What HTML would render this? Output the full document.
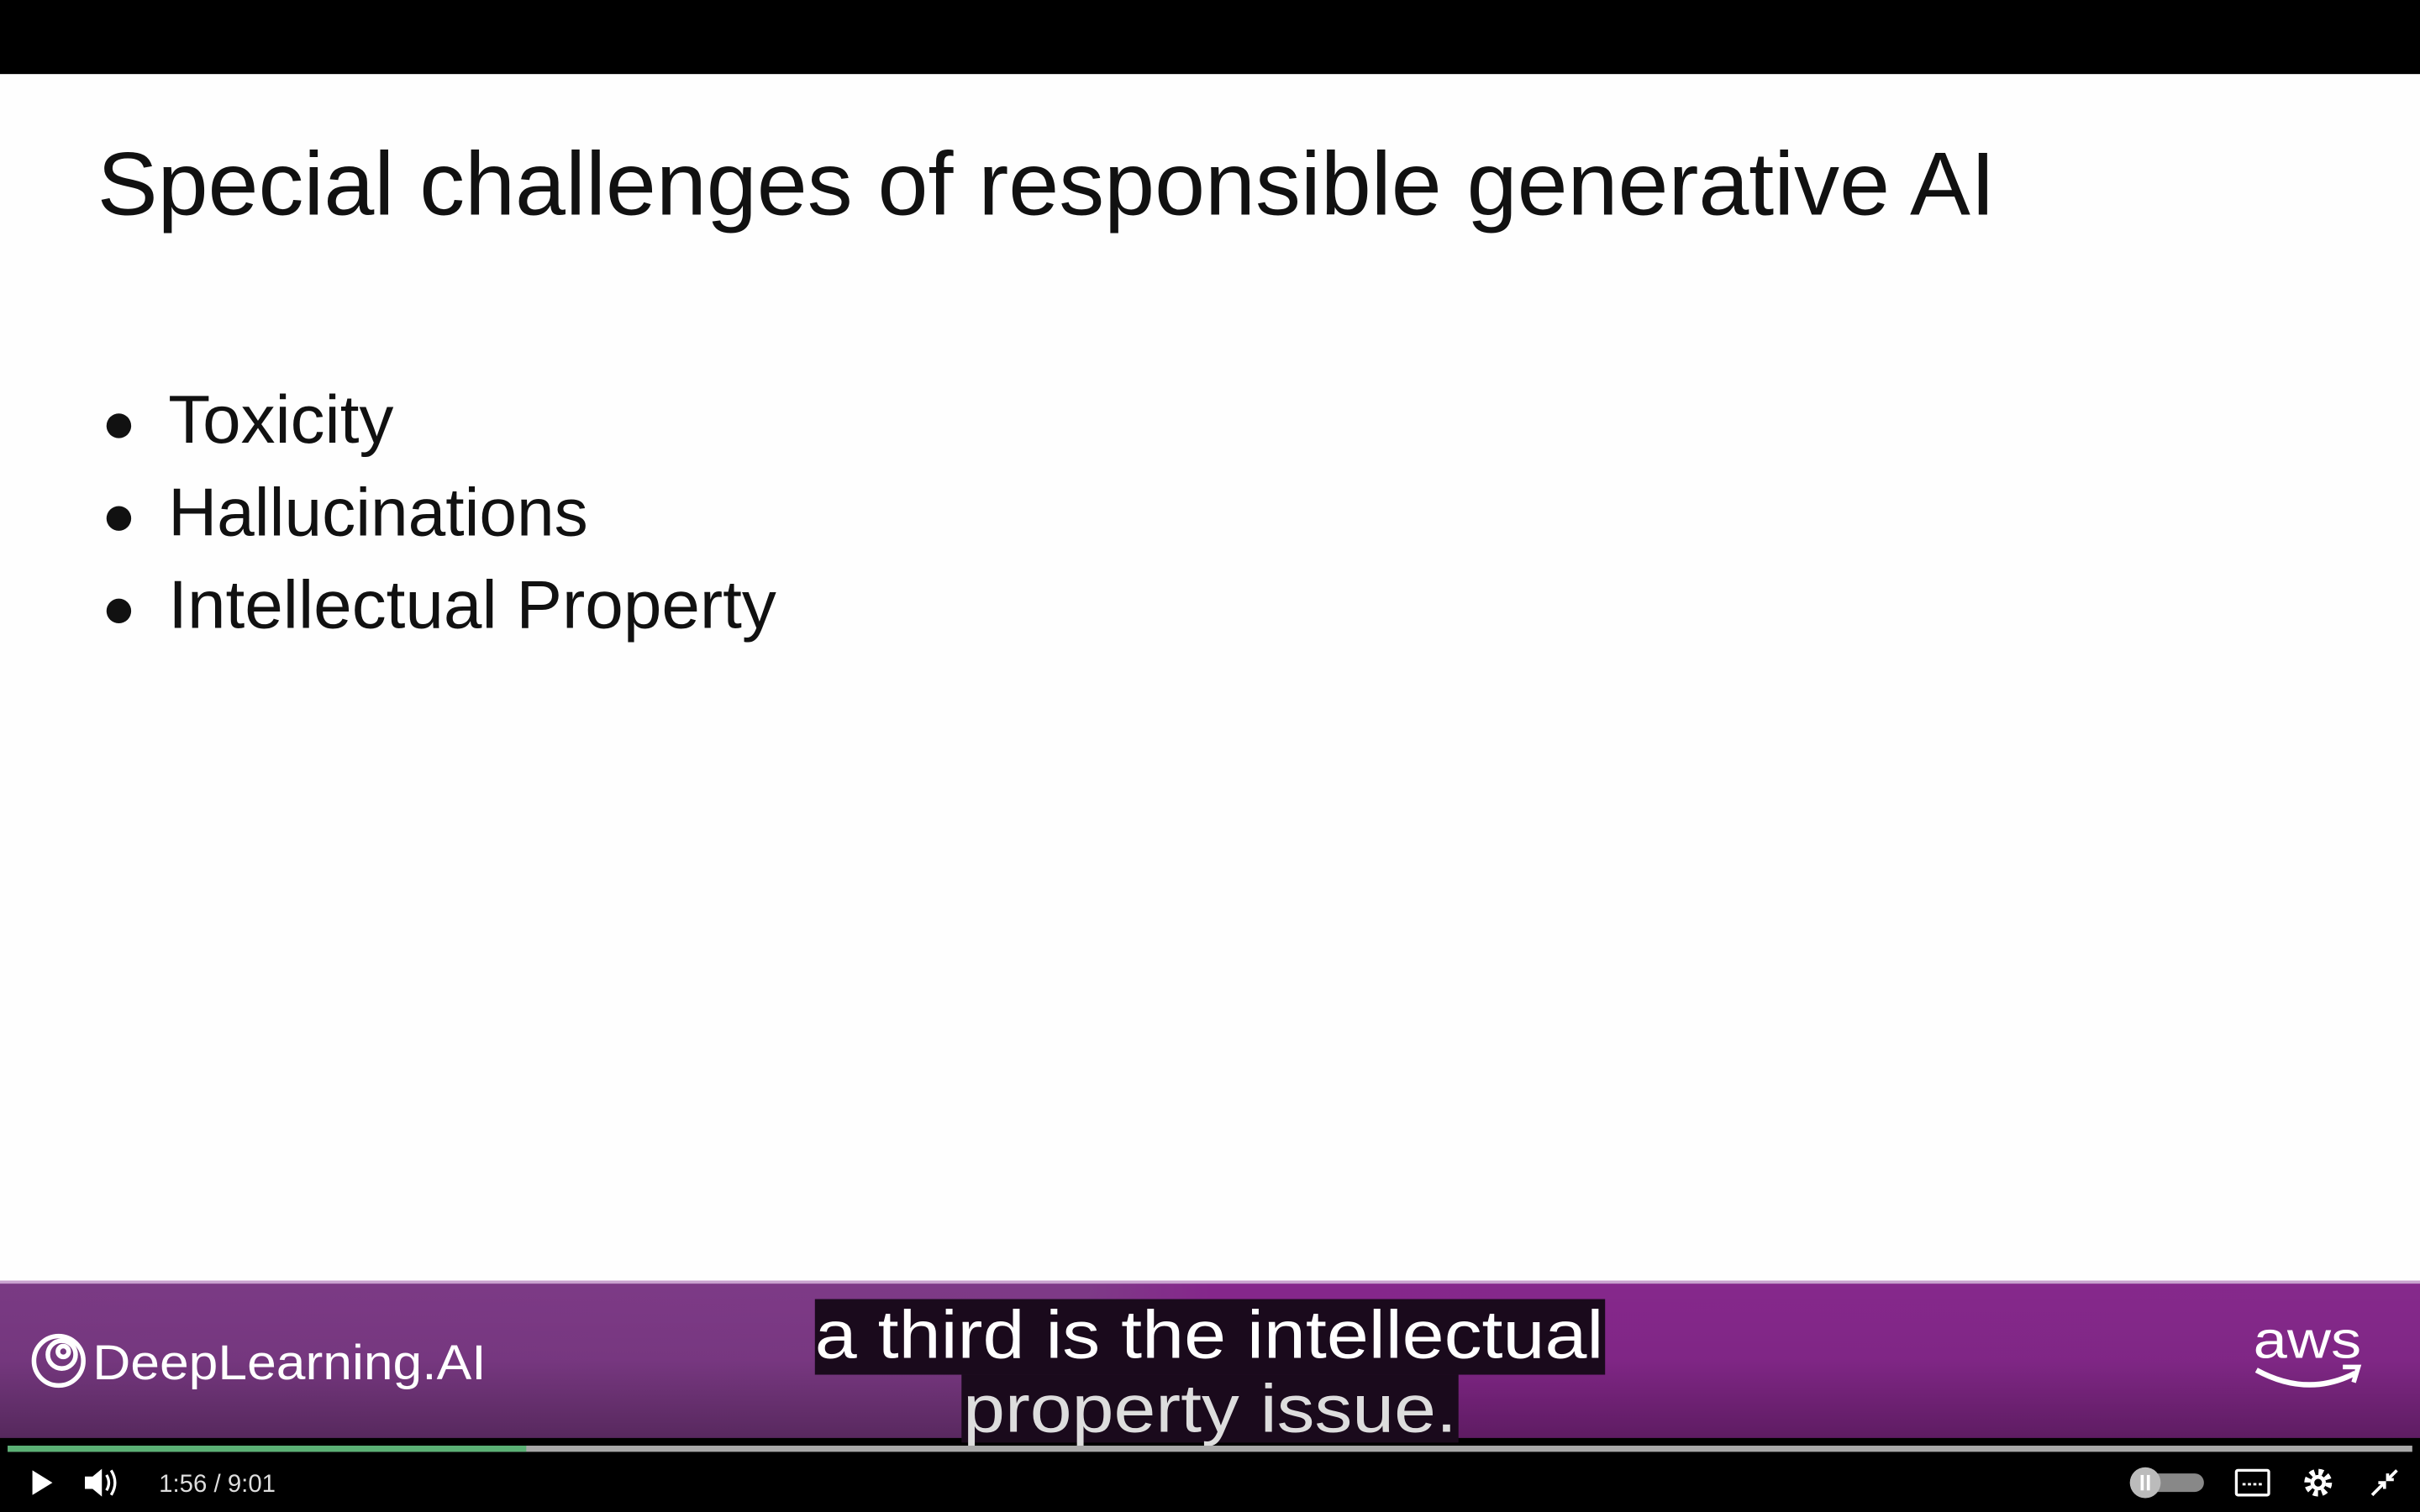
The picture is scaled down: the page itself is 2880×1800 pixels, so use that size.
<!DOCTYPE html>
<html><head><meta charset="utf-8"><style>
html,body{margin:0;padding:0;background:#000;}
svg{display:block;}
</style></head><body>
<svg width="2880" height="1800" viewBox="0 0 1568 980" preserveAspectRatio="none" xmlns="http://www.w3.org/2000/svg">
<defs>
<linearGradient id="pg" x1="0" y1="0" x2="1" y2="0">
<stop offset="0" stop-color="#7a3a84"/><stop offset="0.45" stop-color="#7f3a88"/><stop offset="0.5" stop-color="#86278c"/><stop offset="1" stop-color="#86298c"/>
</linearGradient>
<linearGradient id="pv" x1="0" y1="0" x2="0" y2="1">
<stop offset="0" stop-color="#000" stop-opacity="0"/><stop offset="0.5" stop-color="#000" stop-opacity="0.05"/><stop offset="1" stop-color="#000" stop-opacity="0.3"/>
</linearGradient>
</defs>
<rect x="0" y="0" width="1568" height="980" fill="#000"/>
<rect x="0" y="48" width="1568" height="784" fill="#fefefe"/>
<text x="63" y="139" font-family="Liberation Sans, sans-serif" font-size="58" fill="#111" textLength="1230" lengthAdjust="spacingAndGlyphs">Special challenges of responsible generative AI</text>
<g fill="#111" font-family="Liberation Sans, sans-serif" font-size="44">
<circle cx="77" cy="276" r="8"/>
<circle cx="77" cy="336" r="8"/>
<circle cx="77" cy="396" r="8"/>
<text x="109" y="287" textLength="146" lengthAdjust="spacingAndGlyphs">Toxicity</text>
<text x="109" y="347" textLength="272" lengthAdjust="spacingAndGlyphs">Hallucinations</text>
<text x="109" y="407" textLength="394" lengthAdjust="spacingAndGlyphs">Intellectual Property</text>
</g>
<rect x="0" y="831" width="1568" height="101" fill="url(#pg)"/>
<rect x="0" y="831" width="1568" height="101" fill="url(#pv)"/>
<rect x="0" y="830" width="1568" height="2" fill="#c9a2cf"/>
<!-- DeepLearning logo -->
<g fill="none" stroke="#fff" stroke-width="3">
<circle cx="38" cy="882" r="16"/>
<circle cx="40" cy="878" r="9"/>
<circle cx="41" cy="876" r="3.5"/>
</g>
<text x="60" y="894" font-family="Liberation Sans, sans-serif" font-size="32" fill="#fff" textLength="255" lengthAdjust="spacingAndGlyphs">DeepLearning.AI</text>
<!-- aws -->
<text x="1460" y="880" font-family="Liberation Sans, sans-serif" font-size="34" fill="#fff" textLength="70" lengthAdjust="spacingAndGlyphs">aws</text>
<path d="M1462 888 Q1495 906 1526 890" stroke="#fff" stroke-width="3.5" fill="none"/>
<path d="M1518 886 L1528 886 L1525 896" stroke="#fff" stroke-width="3" fill="none"/>
<!-- captions -->
<rect x="528" y="842" width="512" height="49" fill="#1a0a1c"/>
<rect x="623" y="891" width="322" height="44" fill="#1a0a1c"/>
<text x="528" y="880" font-family="Liberation Sans, sans-serif" font-size="44" fill="#fff" textLength="511" lengthAdjust="spacingAndGlyphs">a third is the intellectual</text>
<text x="624" y="928" font-family="Liberation Sans, sans-serif" font-size="44" fill="#ddd" textLength="320" lengthAdjust="spacingAndGlyphs">property issue.</text>
<!-- progress -->
<rect x="5" y="937" width="1558" height="4" fill="#a8a8a8"/>
<rect x="5" y="937" width="336" height="4" fill="#5bb075"/>
<!-- controls -->
<path d="M21 953 L34 961 L21 969 Z" fill="#fff"/>
<path d="M55 957 L60 957 L66 952 L66 970 L60 965 L55 965 Z" fill="#fff"/>
<path d="M69 956 Q72 961 69 966 M72 953 Q77 961 72 969" stroke="#fff" stroke-width="1.8" fill="none"/>
<text x="103" y="967" font-family="Liberation Sans, sans-serif" font-size="16" fill="#ddd">1:56  /  9:01</text>
<rect x="1382" y="955" width="46" height="12" rx="6" fill="#888"/>
<circle cx="1390" cy="961" r="10" fill="#bbb"/>
<rect x="1387" y="956" width="2" height="10" fill="#fff"/><rect x="1391" y="956" width="2" height="10" fill="#fff"/>
<rect x="1449" y="953" width="21" height="16" rx="1" fill="none" stroke="#fff" stroke-width="1.8"/>
<path d="M1453 962 h13" stroke="#fff" stroke-width="1.5" stroke-dasharray="2 1.5"/>
<circle cx="1502" cy="961" r="7" fill="none" stroke="#fff" stroke-width="4" stroke-dasharray="3 2.5"/>
<circle cx="1502" cy="961" r="5" fill="#fff"/><circle cx="1502" cy="961" r="2.5" fill="#000"/>
<path d="M1537 969 L1545 961 M1541 961 L1545 961 L1545 965 M1553 953 L1547 959 M1547 955 L1547 959 L1551 959" stroke="#fff" stroke-width="2" fill="none"/>
</svg>
</body></html>
